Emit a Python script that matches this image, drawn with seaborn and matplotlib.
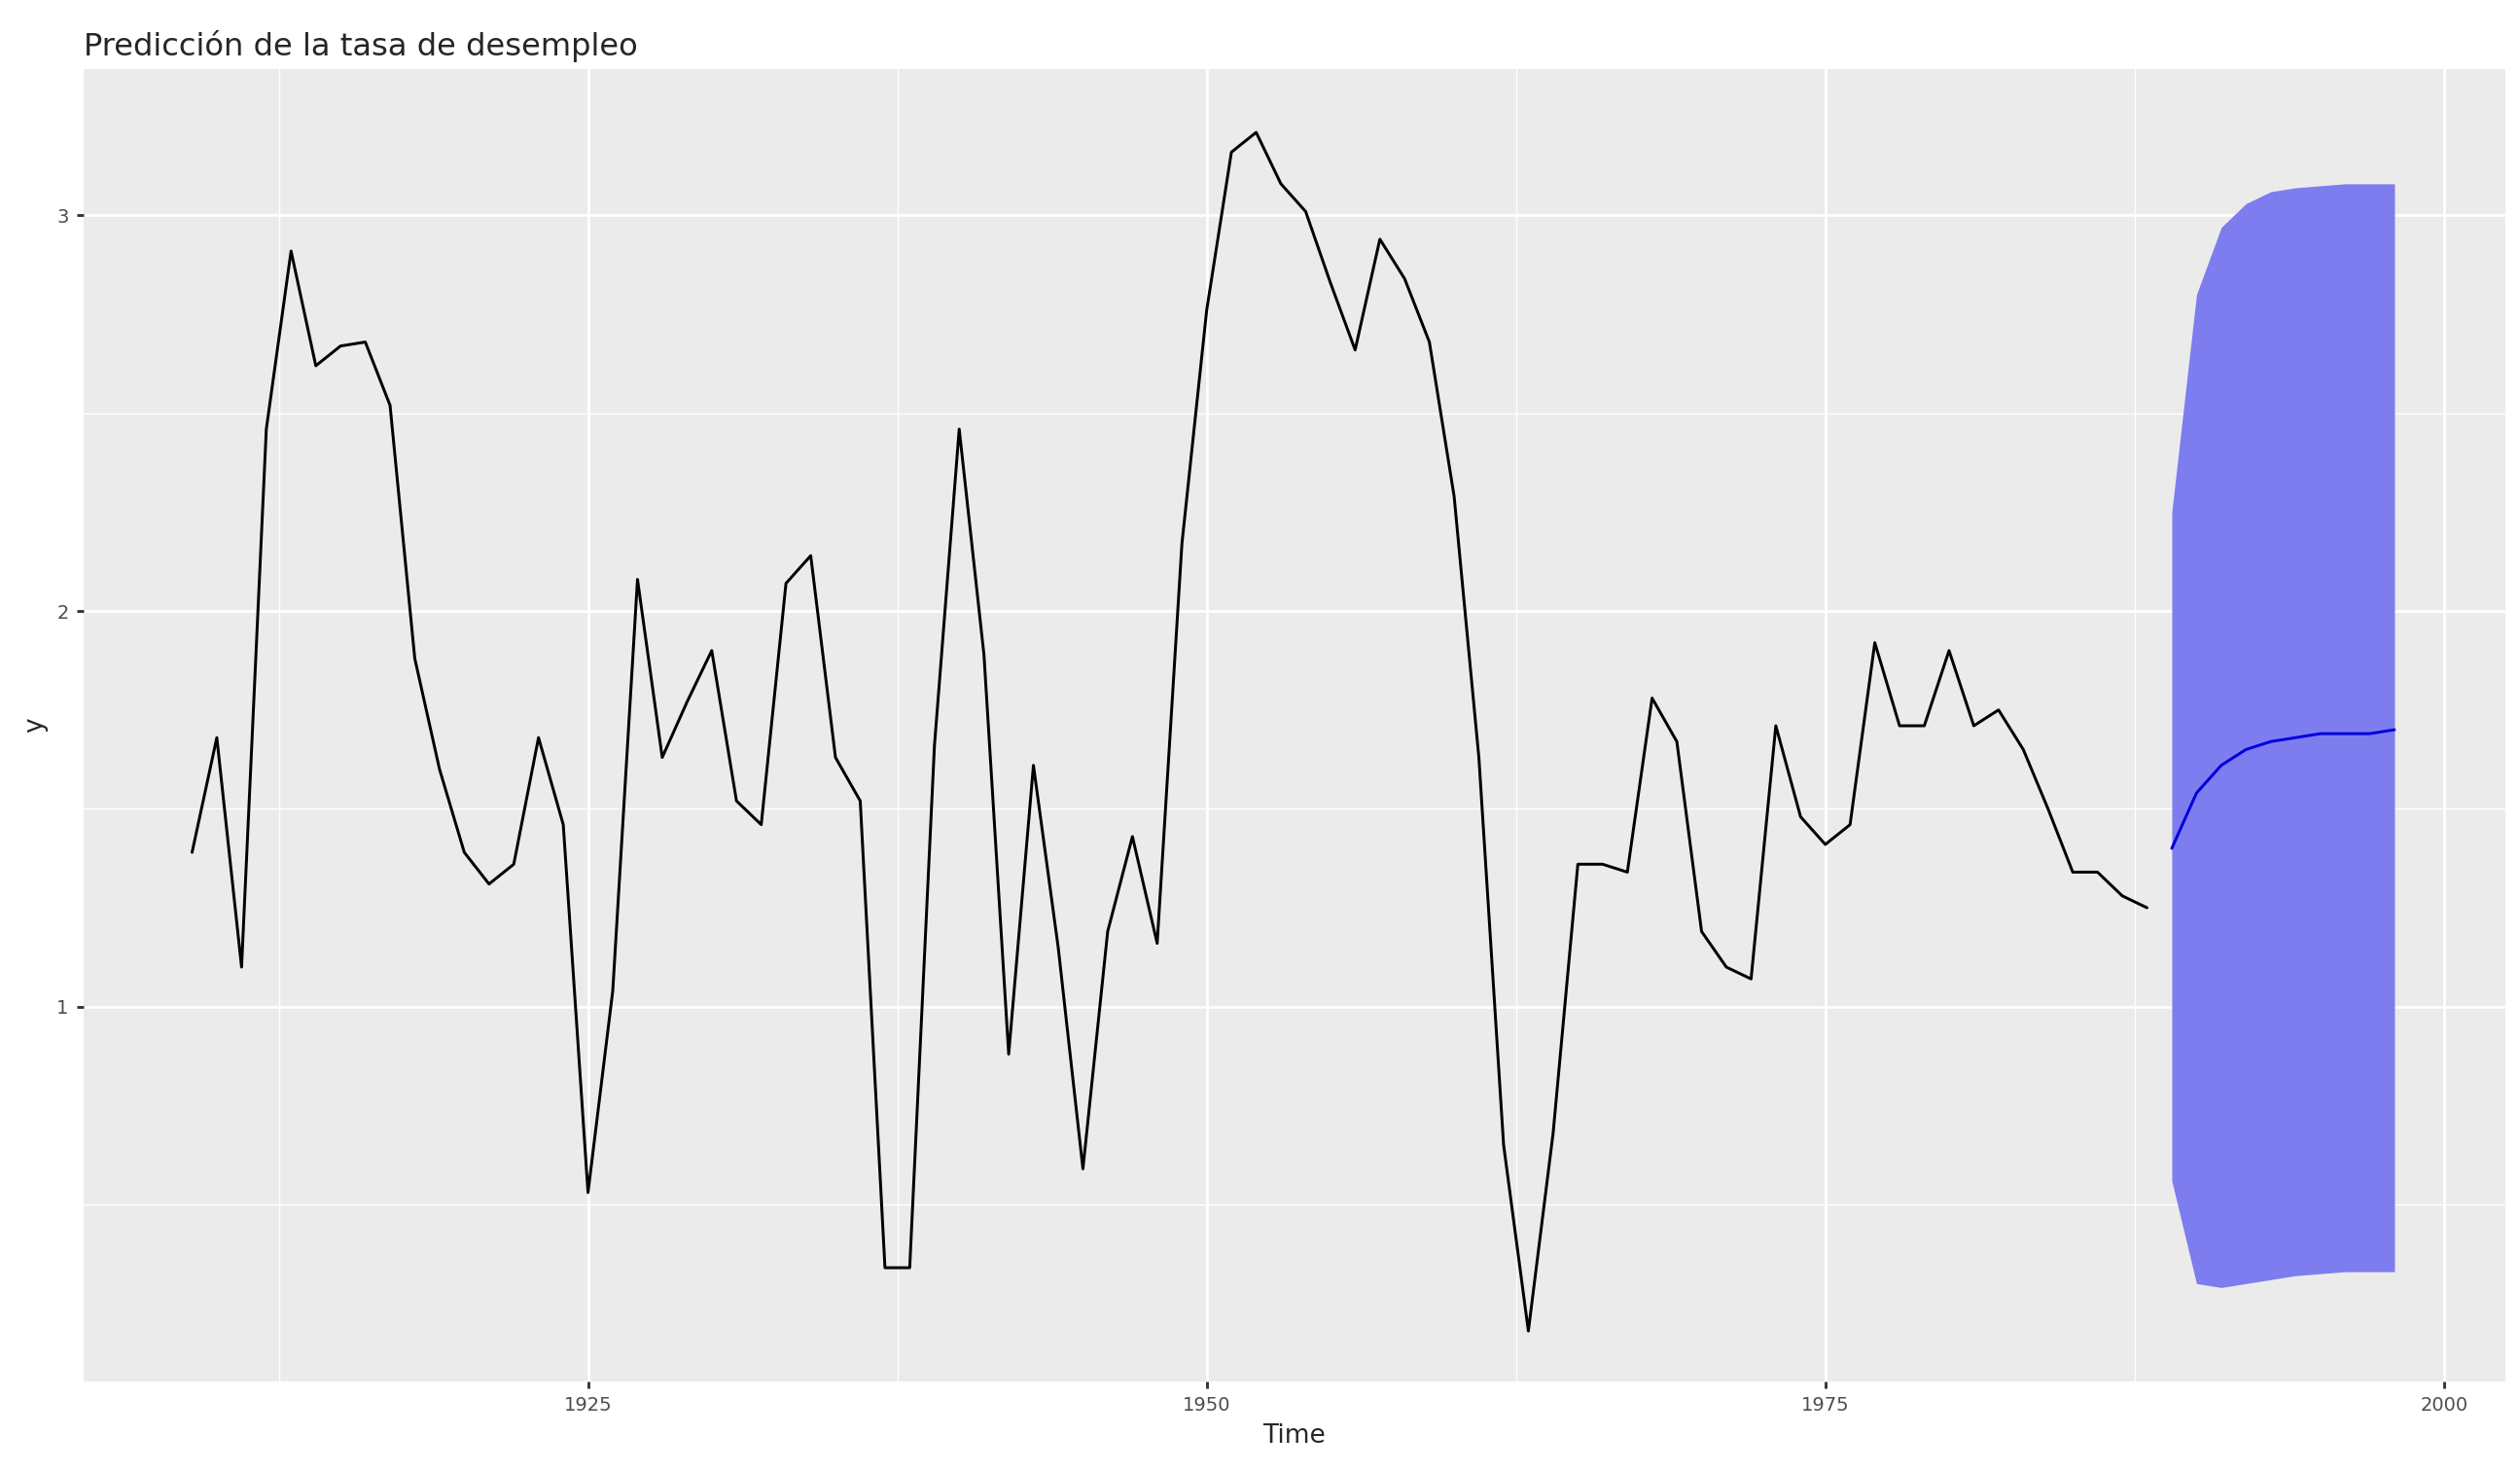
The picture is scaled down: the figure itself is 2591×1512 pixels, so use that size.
import numpy as np
import pandas as pd
import seaborn as sns
import matplotlib.pyplot as plt
from matplotlib.ticker import MultipleLocator

years = list(range(1909, 1989))
rate = [1.39, 1.68, 1.10, 2.46, 2.91, 2.62, 2.67, 2.68, 2.52, 1.88,
        1.60, 1.39, 1.31, 1.36, 1.68, 1.46, 0.53, 1.04, 2.08, 1.63,
        1.77, 1.90, 1.52, 1.46, 2.07, 2.14, 1.63, 1.52, 0.34, 0.34,
        1.66, 2.46, 1.89, 0.88, 1.61, 1.15, 0.59, 1.19, 1.43, 1.16,
        2.17, 2.76, 3.16, 3.21, 3.08, 3.01, 2.83, 2.66, 2.94, 2.84,
        2.68, 2.29, 1.63, 0.65, 0.18, 0.68, 1.36, 1.36, 1.34, 1.78,
        1.67, 1.19, 1.10, 1.07, 1.71, 1.48, 1.41, 1.46, 1.92, 1.71,
        1.71, 1.90, 1.71, 1.75, 1.65, 1.50, 1.34, 1.34, 1.28, 1.25]

fc_years = list(range(1989, 1999))
fc_mean = [1.40, 1.54, 1.61, 1.65, 1.67, 1.68, 1.69, 1.69, 1.69, 1.70]
fc_upper = [2.25, 2.80, 2.97, 3.03, 3.06, 3.07, 3.075, 3.08, 3.08, 3.08]
fc_lower = [0.56, 0.30, 0.29, 0.30, 0.31, 0.32, 0.325, 0.33, 0.33, 0.33]

hist = pd.DataFrame({'Time': years, 'y': rate})
fc = pd.DataFrame({'Time': fc_years, 'y': fc_mean, 'lo': fc_lower, 'hi': fc_upper})

sns.set_theme(style="darkgrid", rc={
    'axes.facecolor': '#ebebeb', 'grid.color': 'white',
    'axes.edgecolor': '#ebebeb'})
plt.rcParams['font.family'] = ['DejaVu Sans']

fig, ax = plt.subplots(figsize=(15.709, 9.164), dpi=165)
ax.fill_between(fc['Time'], fc['lo'], fc['hi'], color='#7d7def', linewidth=0, zorder=2)
sns.lineplot(data=hist, x='Time', y='y', color='black', linewidth=1.3, ax=ax, zorder=3)
sns.lineplot(data=fc, x='Time', y='y', color='#0000dd', linewidth=1.3, ax=ax, zorder=3)

ax.set_xlim(1904.6, 2002.5)
ax.set_ylim(0.053, 3.37)
ax.xaxis.set_major_locator(MultipleLocator(25))
ax.xaxis.set_minor_locator(MultipleLocator(12.5))
ax.yaxis.set_major_locator(MultipleLocator(1))
ax.yaxis.set_minor_locator(MultipleLocator(0.5))
ax.set_xticks([1925, 1950, 1975, 2000])
ax.grid(which='major', color='white', linewidth=1.2)
ax.grid(which='minor', color='white', linewidth=0.6)
ax.tick_params(axis='both', which='major', labelsize=8.5, colors='#4d4d4d',
               length=3, color='#333333', bottom=True, left=True)
ax.set_xlabel('Time', fontsize=11.5)
ax.set_ylabel('y', fontsize=11.5)
ax.set_title('Predicción de la tasa de desempleo', loc='left', fontsize=14)
for s in ax.spines.values():
    s.set_visible(False)

fig.subplots_adjust(left=0.033, right=0.994, top=0.953, bottom=0.061)
fig.savefig('out.png')
